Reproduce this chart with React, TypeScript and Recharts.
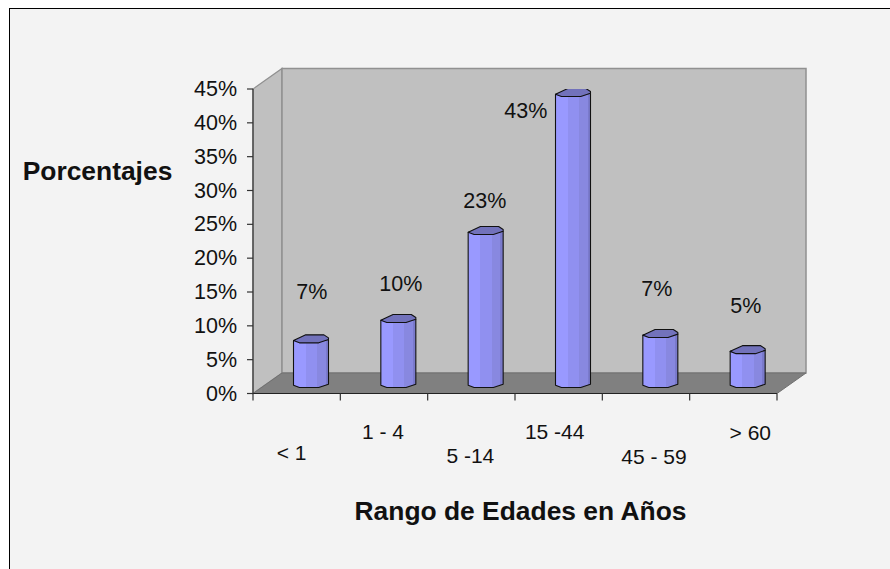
import React from "react";
import { BarChart, Bar, XAxis, YAxis, LabelList, Customized } from "recharts";

const categories = ["< 1", "1 - 4", "5 -14", "15 -44", "45 - 59", "> 60"];
const percentages = [6.6, 9.6, 22.6, 43, 7.4, 5];
const yTicks = [0, 5, 10, 15, 20, 25, 30, 35, 40, 45];

const data = categories.map((range, i) => ({ range, value: percentages[i] }));

// Hand-placed label positions, as in the original chart
const labelNudgeX = [15.3, 17, 13.7, -32.7, 11, 12.7];
const labelNudgeY = [-56.8, -44.5, -39.6, 8.5, -54.7, -53.7];
const catNudgeX = [-5, -1, -1, -4, 8, 17];
const catY = [452.5, 431.5, 455, 431.5, 456, 432];

const FONT = "'Liberation Sans', Arial, sans-serif";
const INK = "#111111";
const W = 890, H = 569;
const L = 253, T = 89, R = 777, B = 393.5;
const DEPTH_X = 29, DEPTH_Y = 20.5;
const BAR_DX = 14.5, BAR_DY = 10;

function Walls() {
  const bx = L + DEPTH_X, by = T - DEPTH_Y, fy = B - DEPTH_Y, rx = R + DEPTH_X;
  return (
    <g>
      <defs>
        <linearGradient id="cyl" x1="0" y1="0" x2="1" y2="0">
          <stop offset="0" stopColor="#9999ff" />
          <stop offset="0.35" stopColor="#9999ff" />
          <stop offset="0.35" stopColor="#9090f0" />
          <stop offset="0.67" stopColor="#9090f0" />
          <stop offset="0.67" stopColor="#8888e0" />
          <stop offset="0.92" stopColor="#8888e0" />
          <stop offset="0.92" stopColor="#7a7acc" />
          <stop offset="1" stopColor="#7a7acc" />
        </linearGradient>
      </defs>
      <polygon points={`${L},${T} ${bx},${by} ${bx},${fy} ${L},${B}`} fill="#c0c0c0" stroke="#909090" strokeWidth={1.2} />
      <rect x={bx} y={by} width={R - L} height={B - T} fill="#c0c0c0" stroke="#909090" strokeWidth={1.5} />
      <polygon points={`${L},${B} ${bx},${fy} ${rx},${fy} ${R},${B}`} fill="#808080" stroke="#707070" strokeWidth={1} />
    </g>
  );
}

function Cylinder(props: any) {
  const { x, y, width, height } = props;
  const w = width;
  const left = x + BAR_DX;
  const top = y - BAR_DY;
  const bottom = y + height - BAR_DY;
  const body = [
    [left, top + 1.7],
    [left + w, top + 0.7],
    [left + w, bottom + 0.7],
    [left + 0.72 * w, bottom + 4],
    [left + 0.17 * w, bottom + 4],
    [left, bottom + 1.7],
  ];
  const cap = [
    [left, top + 1.7],
    [left + 0.35 * w, top - 4],
    [left + 0.87 * w, top - 4],
    [left + w, top - 1],
    [left + w, top + 0.7],
    [left + 0.72 * w, top + 4],
    [left + 0.17 * w, top + 4],
  ];
  const pts = (a: number[][]) => a.map((p) => p.join(",")).join(" ");
  return (
    <g>
      <polygon points={pts(body)} fill="url(#cyl)" stroke="#111" strokeWidth={1.1} strokeLinejoin="round" />
      <polygon points={pts(cap)} fill="#7272bb" stroke="#111" strokeWidth={1.1} strokeLinejoin="round" />
    </g>
  );
}

function PctLabel(props: any) {
  const { x, y, width, value, index } = props;
  return (
    <text
      x={x + width / 2 + labelNudgeX[index]}
      y={y + labelNudgeY[index]}
      textAnchor="middle"
      dominantBaseline="central"
      fontFamily={FONT}
      fontSize={21.5}
      fill={INK}
    >
      {Math.round(value)}%
    </text>
  );
}

function CatTick(props: any) {
  const { x, payload, index } = props;
  const half = (R - L) / categories.length / 2;
  return (
    <g>
      <line x1={x - half} x2={x - half} y1={B} y2={B + 7} stroke="#333" strokeWidth={1.2} />
      {index === categories.length - 1 && (
        <line x1={x + half} x2={x + half} y1={B} y2={B + 7} stroke="#333" strokeWidth={1.2} />
      )}
      <text x={x + catNudgeX[index]} y={catY[index]} textAnchor="middle" dominantBaseline="central" fontFamily={FONT} fontSize={21} fill={INK}>
        {payload.value}
      </text>
    </g>
  );
}

function PctTick(props: any) {
  const { x, y, payload } = props;
  return (
    <text x={x} y={y} textAnchor="end" dominantBaseline="central" fontFamily={FONT} fontSize={21.5} fill={INK}>
      {payload.value}%
    </text>
  );
}

function Titles() {
  return (
    <g fontFamily={FONT} fontWeight="bold" fontSize={26.4} fill={INK}>
      <text x={97.5} y={171} textAnchor="middle" dominantBaseline="central">Porcentajes</text>
      <text x={520.5} y={511} textAnchor="middle" dominantBaseline="central">Rango de Edades en Años</text>
    </g>
  );
}

export default function App() {
  return (
    <div style={{ position: "absolute", left: 0, top: 0, width: W, height: H, background: "#fff", overflow: "hidden" }}>
      <div style={{ position: "absolute", left: 9, top: 8, width: W, height: H, background: "#f3f3f3", borderLeft: "1.5px solid #000", borderTop: "1.5px solid #000" }} />
      <div style={{ position: "absolute", left: 0, top: 0 }}>
        <BarChart
          width={W}
          height={H}
          data={data}
          margin={{ left: L - 60, top: T, right: W - R, bottom: H - B - 60 }}
          style={{ background: "transparent" }}
        >
          <Customized component={Walls} />
          <YAxis
            width={60}
            domain={[0, 45]}
            ticks={yTicks}
            interval={0}
            allowDataOverflow
            tick={<PctTick />}
            tickSize={6}
            tickMargin={10}
            axisLine={{ stroke: "#333", strokeWidth: 1.2 }}
            tickLine={{ stroke: "#333", strokeWidth: 1.2 }}
          />
          <XAxis
            dataKey="range"
            height={60}
            interval={0}
            tick={<CatTick />}
            tickSize={0}
            axisLine={{ stroke: "#222", strokeWidth: 1.2 }}
            tickLine={false}
          />
          <Bar dataKey="value" barSize={35} isAnimationActive={false} shape={<Cylinder />}>
            <LabelList dataKey="value" content={<PctLabel />} />
          </Bar>
          <Customized component={Titles} />
        </BarChart>
      </div>
    </div>
  );
}
